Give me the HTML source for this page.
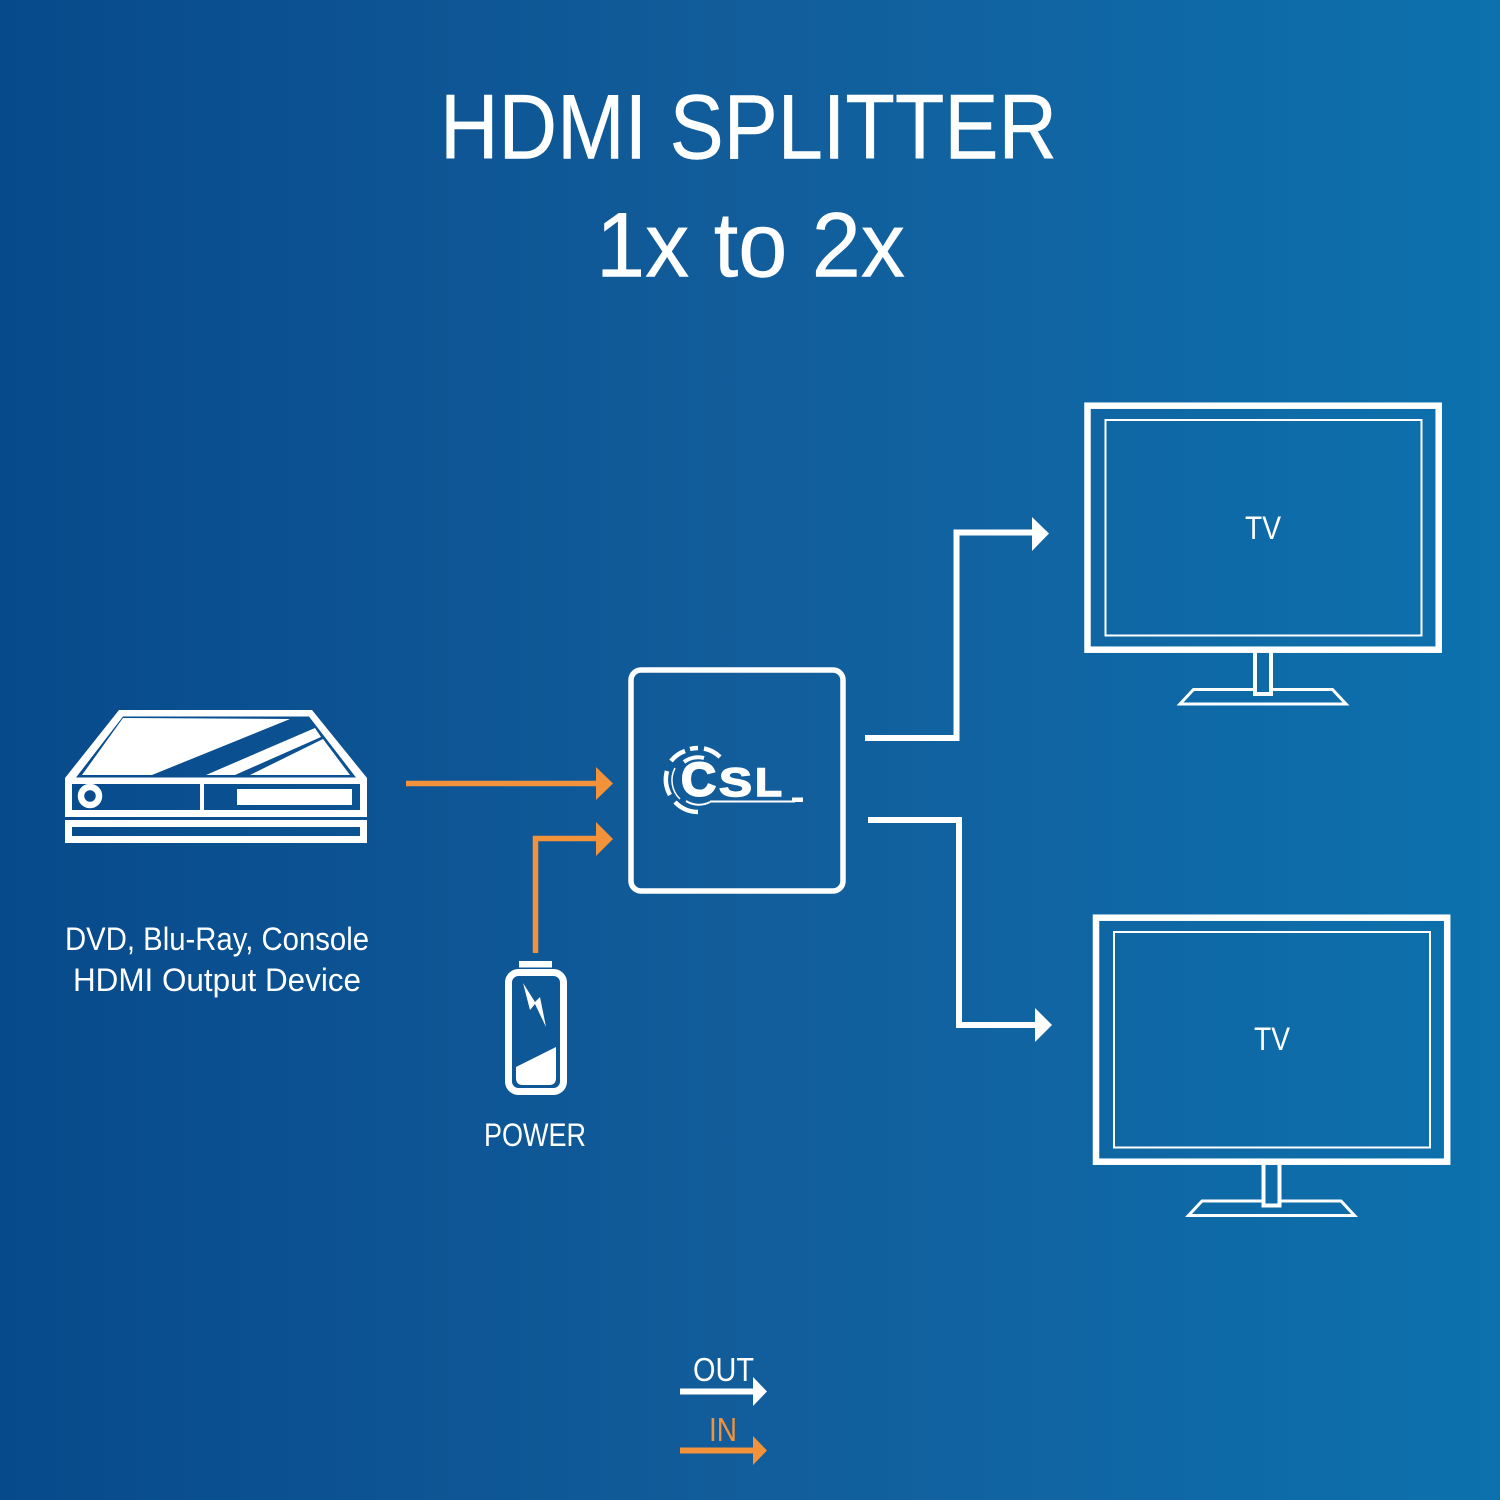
<!DOCTYPE html>
<html><head><meta charset="utf-8"><title>HDMI Splitter</title>
<style>html,body{margin:0;padding:0;width:1500px;height:1500px;overflow:hidden}svg{display:block}text{font-family:"Liberation Sans",sans-serif;fill:#fff;text-anchor:start}</style>
</head><body>
<svg width="1500" height="1500" viewBox="0 0 1500 1500" xmlns="http://www.w3.org/2000/svg">
<defs><linearGradient id="bg" x1="0" y1="0" x2="1" y2="0"><stop offset="0" stop-color="#074a8b"/><stop offset=".5" stop-color="#125d9b"/><stop offset="1" stop-color="#0c71ad"/></linearGradient></defs>
<rect width="1500" height="1500" fill="url(#bg)"/>

<text x="440" y="158.500" font-size="92" textLength="617" lengthAdjust="spacingAndGlyphs" stroke="#fff" stroke-width=".5">HDMI SPLITTER</text>
<text x="596" y="276.500" font-size="92" textLength="309" lengthAdjust="spacingAndGlyphs" stroke="#fff" stroke-width=".5">1x to 2x</text>

<!-- player -->
<g fill="#fff">
<path fill-rule="evenodd" d="M119 710H312L367 778V817H65V778ZM123 716.500L76 777.500H356L309 716.500ZM72 784V810H200V784ZM204 784V810H360V784Z"/>
<polygon points="123,718 290,719 152,775 82,775"/>
<polygon points="315,728 321,737 235,775 206,775"/>
<polygon points="323,739 350,775 250,775"/>
<rect x="237" y="789" width="115" height="16"/>
<path fill-rule="evenodd" d="M65 820H367V843H65ZM72 827V836H360V827Z"/>
</g>
<circle cx="90" cy="796" r="9" fill="none" stroke="#fff" stroke-width="6.500"/>

<text x="65" y="950" font-size="32" textLength="304" lengthAdjust="spacingAndGlyphs">DVD, Blu-Ray, Console</text>
<text x="73" y="991" font-size="32" textLength="288" lengthAdjust="spacingAndGlyphs">HDMI Output Device</text>

<!-- orange connectors -->
<g fill="none" stroke="#f2923a" stroke-width="5.500">
<path d="M406 783.500H600"/>
<path d="M535.500 953V838.500H600"/>
</g>
<g fill="#f2923a">
<polygon points="596,767 613,783.500 596,800"/>
<polygon points="596,822 613,839 596,856"/>
</g>

<!-- battery -->
<rect x="519" y="961" width="33" height="6.500" fill="#fff"/>
<rect x="508.500" y="972.500" width="55" height="119" rx="10" fill="none" stroke="#fff" stroke-width="7"/>
<path d="M516 1067L556 1047V1078Q556 1085 549 1085H523Q516 1085 516 1078Z" fill="#fff"/>
<polygon points="523,983 530,1010 535,1004 546,1027 540,997 535,1002" fill="#fff"/>
<text x="484" y="1146" font-size="32" textLength="102" lengthAdjust="spacingAndGlyphs">POWER</text>

<!-- splitter -->
<rect x="631" y="670" width="212" height="221" rx="10" fill="none" stroke="#fff" stroke-width="5.500"/>
<text x="681" y="795.500" font-size="47" font-weight="700" textLength="35" lengthAdjust="spacingAndGlyphs" stroke="#fff" stroke-width="2">C</text>
<text x="719" y="796" font-size="40" font-weight="700" textLength="33" lengthAdjust="spacingAndGlyphs" stroke="#fff" stroke-width="1.500">S</text>
<text x="755" y="796" font-size="40" font-weight="700" textLength="27" lengthAdjust="spacingAndGlyphs" stroke="#fff" stroke-width="1.500">L</text>
<g fill="none" stroke="#fff">
<g stroke-width="4.500">
<path d="M667 771A32 32 0 0 0 670 795"/>
<path d="M671 761A32 32 0 0 1 685 751"/>
<path d="M690 749A32 32 0 0 1 698 748"/>
<path d="M704 748.500A32 32 0 0 1 720 757"/>
<path d="M675 802A32 32 0 0 0 698 812"/>
</g>
<path d="M684 762A23 23 0 0 1 704 758" stroke-width="4"/>
<path d="M675 768A26 26 0 0 0 680 799" stroke-width="1.500"/>
<path d="M686 801A24 24 0 0 0 710 802" stroke-width="2"/>
<path d="M710 801.500H795" stroke-width="2"/>
</g>
<rect x="792" y="797.500" width="11" height="4.500" fill="#fff"/>

<!-- white connectors -->
<g fill="none" stroke="#fff" stroke-width="6">
<path d="M865 738H956.500V532.500H1036"/>
<path d="M868 820H959V1025H1039"/>
</g>
<g fill="#fff">
<polygon points="1032,517 1049,533.500 1032,551"/>
<polygon points="1035,1008 1052,1025 1035,1042"/>
</g>

<!-- TV 1 -->
<g fill="none" stroke="#fff">
<rect x="1087.500" y="405.700" width="351.200" height="244" stroke-width="6.500"/>
<rect x="1105.500" y="420" width="316" height="215.500" stroke-width="2"/>
<path d="M1255 653V694H1271V653" stroke-width="4"/>
<path d="M1253 689.500H1193.500L1180 704H1346L1332.500 689.500H1273" stroke-width="3"/>
</g>
<text x="1245" y="539" font-size="32" textLength="36" lengthAdjust="spacingAndGlyphs">TV</text>

<!-- TV 2 -->
<g fill="none" stroke="#fff">
<rect x="1096" y="917.700" width="351.200" height="244" stroke-width="6.500"/>
<rect x="1114" y="932" width="316" height="215.500" stroke-width="2"/>
<path d="M1263.500 1164.500V1205.500H1279.500V1164.500" stroke-width="4"/>
<path d="M1261.500 1201H1202L1188.500 1215.500H1354.500L1341 1201H1281.500" stroke-width="3"/>
</g>
<text x="1254" y="1050" font-size="32" textLength="36" lengthAdjust="spacingAndGlyphs">TV</text>

<!-- legend -->
<text x="693" y="1381" font-size="33" textLength="61" lengthAdjust="spacingAndGlyphs">OUT</text>
<path d="M680 1391.500H756" stroke="#fff" stroke-width="6"/>
<polygon points="753,1377 767,1391.500 753,1406" fill="#fff"/>
<text x="709" y="1441" font-size="33" textLength="28" lengthAdjust="spacingAndGlyphs" style="fill:#f2923a">IN</text>
<path d="M680 1450.500H756" stroke="#f2923a" stroke-width="6"/>
<polygon points="753,1436 767,1450.500 753,1465" fill="#f2923a"/>
</svg>
</body></html>
